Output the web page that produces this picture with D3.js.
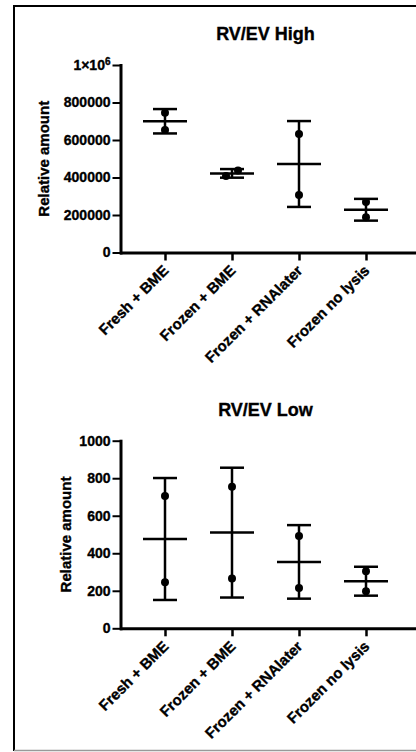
<!DOCTYPE html>
<html>
  <head>
    <meta charset="UTF-8">
    <title>RV/EV High and Low</title>
    <script src="https://d3js.org/d3.v7.min.js"></script>
    <style>
      body { margin: 0; background: #fff; }
      svg text { font-family: "Liberation Sans", Arial, sans-serif; font-weight: bold; fill: #000; stroke: #000; stroke-width: 0.35px; }
    </style>
  </head>
  <body>
    <div id="chart"></div>
    <script>
      // categories on the x axis
      const categories = ["Fresh + BME", "Frozen + BME", "Frozen + RNAlater", "Frozen no lysis"];

      // RV/EV High: replicate values, mean and SD
      const highPoints = [[745000, 653000], [408000, 438000], [632000, 307000], [269000, 188000]];
      const highMean = [700000, 422000, 472000, 228000];
      const highSD = [65000, 23000, 229000, 58000];
      const highTicks = [0, 200000, 400000, 600000, 800000, 1000000];

      // RV/EV Low
      const lowPoints = [[705, 245], [754, 265], [492, 215], [304, 197]];
      const lowMean = [476, 510, 354, 251];
      const lowSD = [325, 346, 196, 77];
      const lowTicks = [0, 200, 400, 600, 800, 1000];

      const width = 416, height = 752;

      const svg = d3.select("#chart")
        .append("svg")
        .attr("width", width)
        .attr("height", height);

      // frame round the figure
      svg.append("line").attr("x1", 14).attr("x2", 14).attr("y1", 6).attr("y2", 751)
        .attr("stroke", "#000").attr("stroke-width", 2);
      svg.append("line").attr("x1", 13).attr("x2", width).attr("y1", 6).attr("y2", 6)
        .attr("stroke", "#000").attr("stroke-width", 2);
      svg.append("line").attr("x1", 14).attr("x2", width).attr("y1", 750.5).attr("y2", 750.5)
        .attr("stroke", "#999").attr("stroke-width", 1.5);

      const x = d3.scalePoint()
        .domain(categories)
        .range([165, 366]);

      function drawPanel(opt) {
        const g = svg.append("g");
        const y = d3.scaleLinear().domain([0, opt.max]).range([opt.bottom, opt.top]);

        // title
        g.append("text")
          .attr("x", 265.5)
          .attr("y", opt.titleY)
          .attr("text-anchor", "middle")
          .style("font-size", "18px")
          .text(opt.title);

        // y axis title
        g.append("text")
          .attr("transform", `translate(${opt.labelX},${(opt.top + opt.bottom) / 2}) rotate(-90)`)
          .attr("text-anchor", "middle")
          .style("font-size", "15px")
          .text("Relative amount");

        // y axis
        const yAxis = g.append("g")
          .attr("transform", "translate(120.5,0)")
          .call(d3.axisLeft(y).tickValues(opt.ticks).tickSize(8).tickPadding(2).tickSizeOuter(0)
            .tickFormat(d => d === 1000000 ? "" : d3.format("d")(d)));
        yAxis.select(".domain").attr("stroke-width", 3).attr("stroke-linecap", "square");
        yAxis.selectAll(".tick line").attr("stroke-width", 2);
        yAxis.selectAll(".tick text").style("font-size", "14px");
        yAxis.selectAll(".tick text").filter(d => d === 1000000)
          .call(t => {
            t.append("tspan").text("1×10");
            t.append("tspan").attr("dy", "-0.45em").style("font-size", "10px").text("6");
          });

        // x axis
        const xAxis = g.append("g")
          .attr("transform", `translate(0,${opt.bottom})`)
          .call(d3.axisBottom(x).tickSize(8).tickSizeOuter(0));
        xAxis.select(".domain").attr("d", `M120,0.5H${width}`).attr("stroke-width", 3);
        xAxis.selectAll(".tick line").attr("stroke-width", 2.5);
        xAxis.selectAll(".tick text")
          .attr("x", 0).attr("y", 0).attr("dy", 0)
          .attr("text-anchor", "end")
          .attr("transform", "translate(4,19) rotate(-45)")
          .style("font-size", "15px");

        // error bars (mean ± SD)
        const bars = g.selectAll(".err")
          .data(categories.map((c, i) => ({ c, mean: opt.mean[i], sd: opt.sd[i], pts: opt.points[i] })))
          .enter().append("g")
          .attr("class", "err")
          .attr("stroke", "#000")
          .attr("stroke-width", 2.5);

        bars.append("line")
          .attr("x1", d => x(d.c)).attr("x2", d => x(d.c))
          .attr("y1", d => y(d.mean + d.sd)).attr("y2", d => y(d.mean - d.sd));
        bars.append("line")
          .attr("x1", d => x(d.c) - 12).attr("x2", d => x(d.c) + 12)
          .attr("y1", d => y(d.mean + d.sd)).attr("y2", d => y(d.mean + d.sd));
        bars.append("line")
          .attr("x1", d => x(d.c) - 12).attr("x2", d => x(d.c) + 12)
          .attr("y1", d => y(d.mean - d.sd)).attr("y2", d => y(d.mean - d.sd));
        bars.append("line")
          .attr("x1", d => x(d.c) - 22).attr("x2", d => x(d.c) + 22)
          .attr("y1", d => y(d.mean)).attr("y2", d => y(d.mean));

        // points, spread sideways when they overlap
        const r = 4;
        bars.each(function (d) {
          const py = d.pts.map(v => y(v));
          const overlap = Math.abs(py[0] - py[1]) < 2 * r;
          d3.select(this).selectAll("circle")
            .data(d.pts)
            .enter().append("circle")
            .attr("cx", (v, j) => x(d.c) + (overlap ? (j === 0 ? -6 : 6) : 0))
            .attr("cy", v => y(v))
            .attr("r", r)
            .attr("fill", "#000")
            .attr("stroke", "none");
        });
      }

      drawPanel({
        title: "RV/EV High", titleY: 40, max: 1000000, top: 65, bottom: 252.5,
        ticks: highTicks, labelX: 49, points: highPoints, mean: highMean, sd: highSD
      });

      drawPanel({
        title: "RV/EV Low", titleY: 416, max: 1000, top: 440.7, bottom: 628.3,
        ticks: lowTicks, labelX: 71, points: lowPoints, mean: lowMean, sd: lowSD
      });
    </script>
  </body>
</html>
